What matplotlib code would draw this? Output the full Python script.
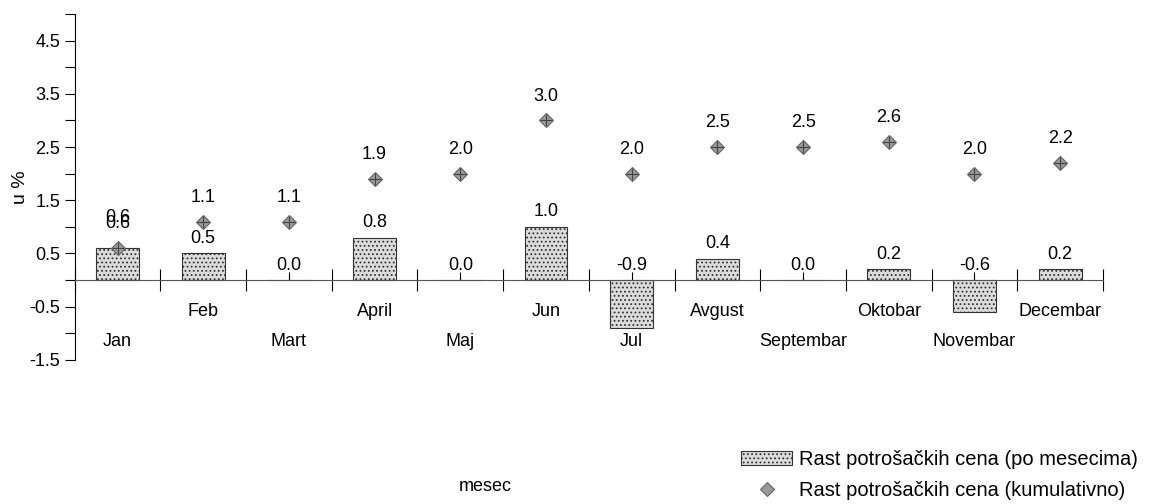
import numpy as np
import matplotlib.pyplot as plt
from matplotlib.ticker import MultipleLocator

plt.rcParams['font.family'] = ['Liberation Sans', 'DejaVu Sans']
plt.rcParams['hatch.color'] = '#9a9a9a'
plt.rcParams['hatch.linewidth'] = 0.8

# podaci
meseci = ["Jan", "Feb", "Mart", "April", "Maj", "Jun", "Jul",
          "Avgust", "Septembar", "Oktobar", "Novembar", "Decembar"]
mesecno = [0.6, 0.5, 0.0, 0.8, 0.0, 1.0, -0.9, 0.4, 0.0, 0.2, -0.6, 0.2]
kumulativno = [0.6, 1.1, 1.1, 1.9, 2.0, 3.0, 2.0, 2.5, 2.5, 2.6, 2.0, 2.2]

x = np.arange(len(meseci))

fig = plt.figure(figsize=(11.49, 5.04), dpi=100)
ax = fig.add_axes([0.065, 0.286, 0.895, 0.686])

ax.bar(x, mesecno, width=0.5, color='#dcdcdc', edgecolor='#333333',
       linewidth=0.8, hatch='....', zorder=2,
       label='Rast potrošačkih cena (po mesecima)')
ax.plot(x, kumulativno, linestyle='none', marker='D', markersize=7,
        color='#999999', markeredgecolor='#666666', markeredgewidth=0.8,
        zorder=3, label='Rast potrošačkih cena (kumulativno)')
ax.plot(x, kumulativno, linestyle='none', marker='+', markersize=8,
        color='#444444', markeredgewidth=0.8, zorder=4)

# oznake vrednosti (Jan: dve oznake se delimicno preklapaju kao u originalu)
for i, v in enumerate(mesecno):
    y = max(v, 0) + 0.12
    if i == 0:
        y = v + 0.42
    ax.text(x[i], y, f"{v:.1f}", ha='center', va='bottom', fontsize=13)
for i, v in enumerate(kumulativno):
    ax.text(x[i], v + 0.3, f"{v:.1f}", ha='center', va='bottom', fontsize=13)

# nazivi meseci naizmenicno
for i, m in enumerate(meseci):
    y = -0.6 if i % 2 == 1 else -1.15
    ax.text(x[i], y, m, ha='center', va='center', fontsize=13)

ax.set_xlim(-0.5, len(meseci) - 0.5)
ax.set_ylim(-1.5, 5.0)

ax.spines['top'].set_visible(False)
ax.spines['right'].set_visible(False)
ax.spines['bottom'].set_position(('data', 0))
ax.spines['bottom'].set_color('#555555')

ax.set_xticks(np.arange(-0.5, len(meseci)), [])
ax.set_xticks(x, minor=True)
ax.tick_params(axis='x', which='major', direction='inout', length=16, width=0.8)
ax.tick_params(axis='x', which='minor', direction='in', length=6, width=0.8)

ax.yaxis.set_major_locator(MultipleLocator(1.0))
ax.set_yticks(np.arange(-1.5, 5.0, 1.0))
ax.set_yticks(np.arange(-1.0, 5.1, 1.0), minor=True)
ax.set_yticklabels([f"{v:.1f}" for v in np.arange(-1.5, 5.0, 1.0)], fontsize=13)
ax.tick_params(axis='y', which='both', direction='out', length=7, width=0.8)

ax.set_ylabel("u %", fontsize=14, labelpad=0)
fig.text(0.422, 0.025, "mesec", ha='center', fontsize=13)

h, l = ax.get_legend_handles_labels()
fig.legend(h[::-1], l[::-1], loc='lower right', bbox_to_anchor=(1.006, -0.028),
           frameon=False, fontsize=14.5, handlelength=2.5, handletextpad=0.35,
           labelspacing=0.6)

plt.savefig("out.png")
